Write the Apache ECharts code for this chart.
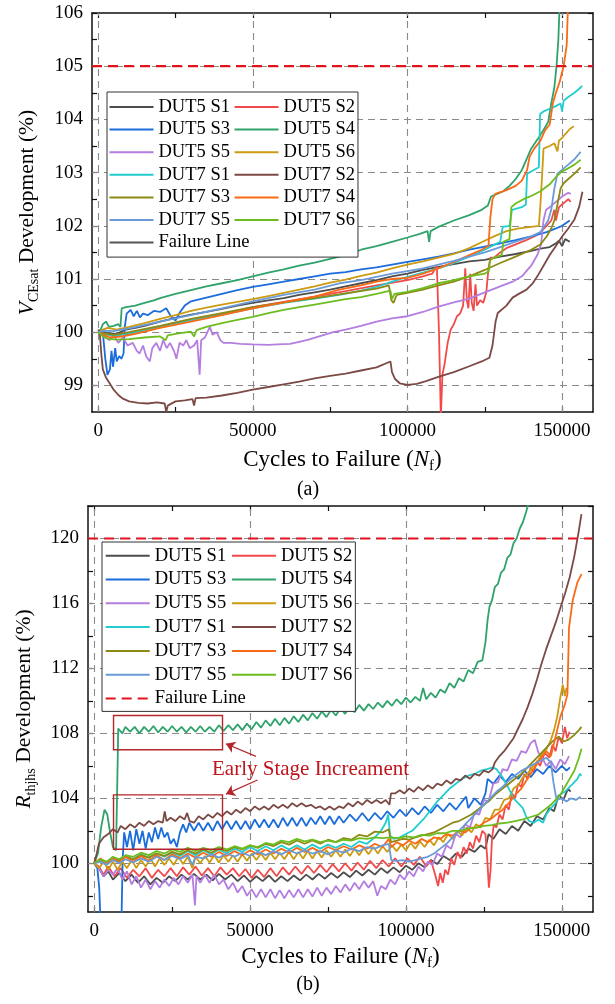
<!DOCTYPE html>
<html><head><meta charset="utf-8">
<script src="https://cdn.jsdelivr.net/npm/echarts@6/dist/echarts.min.js"></script>
<style>html,body{margin:0;padding:0;background:#fff}#c{width:615px;height:1004px}</style>
</head><body><div id="c"></div><script>
const NAMES = ['DUT5 S1','DUT5 S2','DUT5 S3','DUT5 S4','DUT5 S5','DUT5 S6','DUT7 S1','DUT7 S2','DUT7 S3','DUT7 S4','DUT7 S5','DUT7 S6'];
const COLORS = ['#4d4d4d','#f24a4a','#1c6ddc','#2fa36b','#b47de0','#cc9b12','#22cdd0','#7b4a45','#8c8a12','#fa6a16','#6a9bd8','#6dbd1f'];
const FAIL_NAME = 'Failure Line';
const X_RANGE = [-2000, 160000];
const X_LABELS = [0, 50000, 100000, 150000];
const X_TICKS = [0, 25000, 50000, 75000, 100000, 125000, 150000];
const GRID_X = [0, 50000, 100000, 150000];
const YA_RANGE = [98.5, 106];
const YA_LABELS = [99, 100, 101, 102, 103, 104, 105, 106];
const YA_TICKS = [99, 99.5, 100, 100.5, 101, 101.5, 102, 102.5, 103, 103.5, 104, 104.5, 105, 105.5, 106];
const GRID_YA = [99, 100, 101, 102, 103, 104, 105];
const FAIL_A = 105;
const YB_RANGE = [97, 122];
const YB_LABELS = [100, 104, 108, 112, 116, 120];
const YB_TICKS = [98, 100, 102, 104, 106, 108, 110, 112, 114, 116, 118, 120, 122];
const GRID_YB = [100, 104, 108, 112, 116, 120];
const FAIL_B = 120;
const ANNOT_TEXT = 'Early Stage Increament';
const ANNOT_BOXES = [[[6190, 109.1], [41150, 106.99]], [[6190, 104.21], [41150, 100.86]]];
const ANNOT_ARROWS = [[[51860, 106.58], [42240, 107.36]], [[52370, 105.13], [42240, 104.26]]];

// ---------- panel (a): VCEsat ----------
const A_DUT5_S1 = [[0,100],[1000,100.02],[3000,99.98],[6000,99.97],[9000,100.05],[12000,100.08],[15000,100.12],[20000,100.2],[25000,100.27],[30000,100.33],[35000,100.38],[40000,100.44],[45000,100.5],[50000,100.55],[55000,100.6],[60000,100.64],[65000,100.7],[70000,100.75],[75000,100.8],[80000,100.86],[85000,100.92],[90000,100.98],[95000,101.05],[100000,101.1],[105000,101.17],[110000,101.23],[115000,101.28],[120000,101.33],[125000,101.36],[130000,101.42],[135000,101.47],[140000,101.53],[143000,101.57],[146000,101.6],[148000,101.67],[149000,101.72],[150000,101.62],[151000,101.75],[152500,101.7]];
const A_DUT5_S2 = [[0,100],[2000,99.97],[5000,99.93],[10000,99.97],[20000,100.1],[30000,100.22],[40000,100.34],[50000,100.47],[60000,100.57],[70000,100.67],[80000,100.77],[90000,100.88],[100000,100.98],[105000,101.05],[108000,101.1],[109500,101.25],[110200,100.0],[110800,98.4],[111300,99.2],[112000,99.4],[113000,99.8],[114000,100.05],[115000,100.15],[116000,100.3],[117000,100.35],[118000,100.5],[118700,101.2],[119200,100.6],[119700,100.45],[120300,101.1],[120800,100.55],[121400,100.4],[122000,100.9],[122500,100.5],[123500,100.6],[124500,100.55],[125500,100.75],[126200,101.2],[126800,101.4],[128000,101.4],[130000,101.5],[132000,101.58],[135000,101.65],[138000,101.72],[141000,101.8],[143000,101.88],[145000,102.0],[146500,102.1],[147500,102.3],[148000,102.1],[149000,102.35],[150000,102.4],[151000,102.45],[152000,102.5],[152800,102.45]];
const A_DUT5_S3 = [[0,100],[1500,100.0],[2300,99.5],[3000,99.2],[3800,99.3],[4300,99.65],[4800,99.35],[5500,99.7],[6000,99.45],[6800,99.55],[7500,99.5],[8200,99.6],[8600,100.1],[9200,100.35],[10500,100.42],[11500,100.3],[12500,100.4],[13500,100.28],[14500,100.35],[16000,100.32],[18000,100.4],[20000,100.38],[22000,100.45],[23500,100.3],[25000,100.22],[26500,100.38],[28000,100.5],[30000,100.58],[35000,100.65],[40000,100.72],[45000,100.79],[50000,100.85],[55000,100.9],[60000,100.95],[65000,101.0],[70000,101.05],[75000,101.1],[80000,101.13],[85000,101.18],[90000,101.22],[95000,101.27],[100000,101.32],[105000,101.37],[110000,101.42],[115000,101.48],[120000,101.55],[125000,101.61],[130000,101.67],[135000,101.73],[140000,101.8],[145000,101.88],[148000,101.95],[150000,102.0],[152500,102.1]];
const A_DUT5_S4 = [[0,100],[800,100.05],[1500,100.15],[2500,100.2],[3500,100.1],[5000,100.12],[6500,100.15],[7200,100.1],[7600,100.45],[9000,100.47],[12000,100.5],[15000,100.55],[18000,100.6],[20000,100.64],[25000,100.72],[30000,100.79],[35000,100.86],[40000,100.92],[45000,100.98],[50000,101.05],[55000,101.12],[60000,101.18],[65000,101.25],[70000,101.31],[75000,101.38],[80000,101.45],[85000,101.55],[90000,101.62],[95000,101.7],[100000,101.78],[104000,101.85],[106500,101.9],[107000,101.7],[107500,101.9],[110000,101.98],[115000,102.1],[120000,102.2],[124000,102.3],[126000,102.38],[127000,102.55],[129000,102.6],[131000,102.65],[133000,102.75],[135000,102.88],[137000,103.05],[138500,103.25],[140000,103.45],[142000,103.62],[144000,103.8],[145500,103.95],[146500,104.3],[147500,104.6],[148200,105.0],[148800,105.5],[149300,106.3]];
const A_DUT5_S5 = [[0,100],[1000,100.0],[2500,99.9],[3700,99.85],[5000,99.95],[6500,99.8],[8000,99.9],[9500,99.75],[11200,99.8],[12500,99.65],[13400,99.6],[14500,99.75],[15500,99.55],[16700,99.45],[17500,99.7],[18800,99.8],[20000,99.65],[21000,99.85],[22200,99.7],[23200,99.8],[24500,99.65],[25300,99.5],[26300,99.8],[27500,99.75],[28500,99.85],[29600,99.7],[31000,99.75],[32000,99.85],[32800,99.2],[33300,99.85],[34500,99.9],[36100,100.1],[37000,99.95],[38300,100.0],[39500,99.85],[40500,99.8],[43000,99.8],[46000,99.78],[50000,99.77],[55000,99.76],[58000,99.77],[62000,99.78],[65000,99.82],[68000,99.86],[72000,99.93],[76000,100.0],[80000,100.05],[85000,100.12],[90000,100.2],[95000,100.26],[100000,100.3],[105000,100.38],[110000,100.48],[115000,100.56],[120000,100.63],[125000,100.75],[130000,100.86],[134000,100.95],[137000,101.05],[140000,101.25],[142000,101.45],[143200,101.65],[144000,102.1],[144800,102.3],[146000,102.35],[148000,102.45],[150000,102.55],[152000,102.62],[152800,102.6]];
const A_DUT5_S6 = [[0,100],[1500,100.05],[3000,100.08],[6000,100.05],[10000,100.1],[15000,100.17],[20000,100.25],[25000,100.32],[30000,100.4],[35000,100.46],[40000,100.52],[45000,100.57],[50000,100.62],[55000,100.68],[60000,100.74],[65000,100.8],[70000,100.86],[75000,100.93],[80000,100.99],[85000,101.06],[90000,101.12],[95000,101.2],[100000,101.27],[105000,101.33],[110000,101.4],[115000,101.47],[120000,101.58],[125000,101.72],[128000,101.8],[132000,101.9],[136000,101.95],[140000,101.98],[142500,102.0],[143000,102.4],[143500,102.9],[144000,103.45],[146000,103.5],[147500,103.55],[148500,103.4],[149000,103.6],[150000,103.65],[151000,103.72],[152500,103.82],[153800,103.87]];
const A_DUT7_S1 = [[0,100],[2000,99.97],[5000,99.93],[10000,99.98],[20000,100.1],[30000,100.22],[40000,100.33],[50000,100.45],[60000,100.55],[70000,100.63],[78000,100.7],[85000,100.78],[90000,100.85],[95000,100.95],[100000,101.04],[105000,101.12],[110000,101.2],[115000,101.3],[120000,101.42],[125000,101.55],[130000,101.7],[130800,101.98],[133000,102.0],[133800,102.3],[137000,102.35],[138300,102.4],[138700,102.98],[140000,103.02],[142500,103.1],[142900,104.1],[144000,104.15],[146000,104.2],[148000,104.25],[149500,104.3],[150000,104.15],[150500,104.35],[152000,104.42],[154000,104.5],[156000,104.6],[156500,104.63]];
const A_DUT7_S2 = [[0,100.05],[500,100.0],[1000,99.6],[1500,99.3],[2500,99.15],[3700,99.04],[5000,98.92],[6500,98.82],[8000,98.75],[10000,98.7],[13000,98.67],[16000,98.66],[19000,98.68],[21500,98.66],[22000,98.5],[22500,98.62],[25000,98.7],[28000,98.72],[30500,98.74],[31000,98.62],[31500,98.76],[35000,98.77],[40000,98.81],[45000,98.86],[50000,98.92],[55000,98.97],[60000,99.02],[65000,99.07],[70000,99.13],[75000,99.18],[80000,99.22],[85000,99.28],[90000,99.34],[94500,99.45],[95000,99.25],[96000,99.12],[97500,99.04],[100000,99.01],[103000,99.03],[106000,99.08],[110000,99.16],[115000,99.25],[120000,99.36],[124000,99.45],[126500,99.52],[127500,99.75],[128500,100.2],[129200,100.36],[132000,100.5],[134000,100.65],[136000,100.72],[138500,100.8],[140500,100.92],[142000,101.05],[144000,101.25],[146000,101.45],[148000,101.62],[150000,101.8],[152000,101.95],[154000,102.12],[155500,102.35],[156600,102.64]];
const A_DUT7_S3 = [[0,100],[2000,99.98],[5000,99.95],[10000,100.0],[20000,100.12],[30000,100.25],[40000,100.36],[50000,100.47],[60000,100.56],[70000,100.64],[80000,100.73],[90000,100.82],[94000,100.88],[94800,100.6],[95500,100.55],[96500,100.7],[100000,100.74],[105000,100.8],[110000,100.88],[115000,100.95],[120000,101.05],[125000,101.17],[130000,101.3],[135000,101.42],[140000,101.55],[143000,101.65],[145000,101.8],[146500,101.95],[147500,102.1],[148500,102.4],[149500,102.7],[150500,102.8],[152000,102.88],[154000,102.98],[156000,103.1]];
const A_DUT7_S4 = [[0,100],[1500,99.95],[4000,99.9],[8000,99.92],[12000,99.97],[20000,100.08],[30000,100.2],[40000,100.32],[50000,100.45],[60000,100.56],[70000,100.67],[78000,100.8],[85000,100.88],[90000,100.95],[95000,101.0],[100000,101.02],[105000,101.1],[110000,101.2],[115000,101.32],[120000,101.45],[124000,101.55],[126200,101.62],[126800,102.15],[127500,102.5],[128400,102.6],[132000,102.67],[135000,102.75],[137000,102.85],[138700,103.05],[139500,103.3],[141000,103.45],[143000,103.6],[144500,103.8],[146000,103.9],[147000,104.3],[148000,104.5],[149200,104.7],[150500,105.0],[151500,105.4],[152000,106.3]];
const A_DUT7_S5 = [[0,100],[2000,100.03],[5000,100.02],[10000,100.07],[20000,100.2],[30000,100.32],[40000,100.45],[50000,100.58],[60000,100.7],[70000,100.8],[78000,100.92],[85000,100.98],[90000,101.04],[95000,101.1],[100000,101.15],[105000,101.2],[110000,101.27],[115000,101.34],[120000,101.42],[125000,101.5],[130000,101.6],[135000,101.7],[140000,101.8],[143000,101.88],[145500,102.1],[146500,102.3],[147500,102.7],[148500,102.98],[150000,103.05],[152000,103.15],[154000,103.25],[156000,103.39]];
const A_DUT7_S6 = [[0,100],[1500,99.92],[3000,99.88],[6000,99.86],[10000,99.87],[15000,99.9],[20000,99.92],[21800,99.85],[22500,99.94],[25000,99.97],[30000,100.01],[31000,99.92],[31800,100.04],[35000,100.1],[40000,100.17],[45000,100.23],[50000,100.29],[55000,100.36],[60000,100.42],[65000,100.47],[70000,100.52],[75000,100.57],[80000,100.62],[85000,100.66],[90000,100.72],[94500,100.78],[95000,100.62],[95800,100.72],[100000,100.76],[105000,100.83],[110000,100.92],[115000,100.98],[120000,101.05],[125000,101.1],[126300,101.15],[126800,101.36],[128000,101.4],[130500,101.45],[131000,101.7],[133000,101.75],[133600,102.35],[135000,102.42],[137500,102.5],[140000,102.56],[143000,102.65],[146000,102.78],[148500,102.95],[150000,103.02],[152000,103.08],[154000,103.15],[156000,103.24]];

// ---------- panel (b): Rthjhs ----------
const B_DUT5_S1 = [[0,100],[1500,99.7],[3000,99.2],[4500,99.5],[6000,99.0],[8000,99.4],[10000,98.9],[12000,99.3],[14000,98.8],[16000,99.2],[18000,98.7],[20000,99.1],[22000,98.8],[24000,99.2],[26000,98.9],[28000,99.3],[30000,99.0],[32000,99.35],[34000,99.0],[36000,99.3],[38000,98.95],[40000,99.35],[42000,99.0],[44000,99.3],[46000,98.9],[48000,99.25],[50000,98.85],[52000,99.2],[54000,98.9],[56000,99.25],[58000,98.85],[60000,99.2],[62000,98.9],[64000,99.25],[66000,98.95],[68000,99.3],[70000,99.0],[72000,99.35],[74000,99.05],[76000,99.4],[78000,99.1],[80000,99.45],[82000,99.15],[84000,99.55],[86000,99.25],[88000,99.6],[90000,99.3],[92000,99.7],[94000,99.4],[96000,99.75],[98000,99.45],[100000,99.85],[102000,99.6],[104000,100.0],[106000,99.75],[108000,100.2],[110000,99.95],[112000,100.45],[114000,100.2],[116000,100.6],[118000,100.4],[120000,100.9],[122000,100.7],[124000,101.1],[125500,100.9],[126500,101.8],[128000,101.5],[130000,102.1],[132000,101.8],[134000,102.3],[136000,102.0],[138000,102.6],[140000,102.3],[142000,102.9],[144000,102.7],[146000,103.4],[147500,103.2],[149000,104.2],[150500,103.9],[152000,104.6],[152800,104.4]];
const B_DUT5_S2 = [[0,100],[1500,99.8],[3000,99.3],[4500,99.8],[6500,99.2],[8500,99.7],[10500,99.1],[12500,99.6],[14500,99.2],[16500,99.7],[18500,99.1],[20500,99.6],[22500,99.2],[24500,99.7],[26500,99.2],[28500,99.75],[30500,99.3],[32500,99.8],[34500,99.25],[36500,99.7],[38500,99.2],[40500,99.75],[42500,99.3],[44500,99.7],[46500,99.2],[48500,99.65],[50500,99.1],[52500,99.6],[54500,99.15],[56500,99.7],[58500,99.2],[60500,99.75],[62500,99.3],[64500,99.8],[66500,99.35],[68500,99.85],[70500,99.4],[72500,99.9],[74500,99.45],[76500,99.95],[78500,99.5],[80500,100.0],[82500,99.55],[84500,100.05],[86500,99.6],[88500,100.15],[90500,99.7],[92500,100.2],[94500,99.8],[96500,100.3],[98500,99.8],[100500,100.3],[102500,99.9],[104500,100.4],[106500,99.8],[108000,100.2],[109500,99.2],[110300,98.6],[111000,99.4],[111800,98.8],[112600,99.6],[113500,99.3],[114500,100.3],[115500,99.9],[116500,100.7],[117500,100.3],[118500,101.0],[119500,100.6],[120500,101.3],[121500,100.9],[122500,101.7],[123500,101.3],[124500,102.0],[125500,101.8],[126000,100.5],[126600,98.5],[127100,99.5],[127600,101.5],[128200,102.4],[129000,102.2],[130000,103.0],[131000,102.7],[132000,103.6],[133000,103.3],[134000,104.3],[135000,104.0],[136000,104.9],[137000,104.7],[138000,105.5],[139000,105.2],[140000,105.9],[141000,105.6],[142000,106.3],[143000,106.0],[144500,106.8],[146000,106.5],[147000,107.3],[148000,106.9],[149000,107.8],[150000,107.4],[151000,108.4],[151700,107.7],[152500,108.1]];
const B_DUT5_S3 = [[0,100],[1000,99.7],[1600,98.5],[2100,96.0],[8700,96.0],[9100,100.2],[9600,101.9],[10500,101.0],[11500,102.0],[12500,100.8],[13500,102.1],[14500,101.2],[15500,102.0],[16500,100.9],[17500,101.9],[18500,101.3],[19500,102.2],[20500,101.5],[21500,102.2],[22500,101.6],[23500,101.9],[24500,101.2],[25500,101.5],[26500,101.0],[27500,101.9],[28500,102.4],[29500,101.9],[30500,102.5],[32000,102.0],[33500,102.5],[35000,102.0],[36500,102.5],[38000,102.0],[39500,102.6],[41000,102.1],[42500,102.6],[44000,102.1],[45500,102.6],[47000,102.1],[48500,102.6],[50000,102.1],[51500,102.7],[53000,102.2],[54500,102.7],[56000,102.2],[57500,102.7],[59000,102.2],[60500,102.8],[62000,102.3],[63500,102.8],[65000,102.3],[66500,102.8],[68000,102.3],[69500,102.8],[71000,102.4],[72500,102.9],[74000,102.4],[75500,102.9],[77000,102.4],[78500,102.9],[80000,102.5],[82000,103.0],[84000,102.6],[86000,103.1],[88000,102.6],[90000,103.1],[92000,102.7],[94000,103.2],[96000,102.8],[98000,103.3],[100000,102.9],[102000,103.4],[104000,103.0],[106000,103.5],[108000,103.1],[110000,103.6],[112000,103.2],[114000,103.7],[116000,103.3],[118000,103.8],[119300,104.1],[120000,103.4],[122000,104.0],[124000,103.6],[125500,104.3],[126200,105.2],[128000,104.9],[130000,105.4],[132000,105.0],[134000,105.5],[136000,105.2],[138000,105.7],[140000,105.3],[142000,105.8],[144000,105.5],[146000,106.0],[148000,105.6],[150000,106.0],[151500,105.7],[152600,105.9]];
const B_DUT5_S4 = [[0,100],[1200,100.6],[2200,102.2],[3300,103.3],[4200,103.0],[5000,102.0],[6000,101.0],[7000,100.8],[7400,105.0],[7700,108.3],[9000,108.0],[10000,108.4],[11500,108.1],[13000,108.4],[14500,108.0],[16000,108.4],[17500,108.1],[19000,108.45],[20500,108.05],[22000,108.4],[23500,108.1],[25000,108.45],[26500,108.1],[28000,108.4],[29500,108.05],[31000,108.4],[32500,108.1],[34000,108.45],[35500,108.1],[37000,108.4],[38500,108.1],[40000,108.5],[41500,108.15],[43000,108.5],[44500,108.2],[46000,108.55],[47500,108.2],[49000,108.6],[50500,108.25],[52000,108.7],[53500,108.35],[55000,108.8],[56500,108.45],[58000,108.9],[59500,108.5],[61000,108.95],[62500,108.6],[64000,109.05],[65500,108.7],[67000,109.15],[68500,108.8],[70000,109.25],[71500,108.9],[73000,109.35],[74500,109.0],[76000,109.45],[77500,109.1],[79000,109.55],[80500,109.2],[82000,109.65],[83500,109.3],[85000,109.75],[86500,109.4],[88000,109.8],[89500,109.5],[91000,109.9],[92500,109.6],[94000,110.0],[95500,109.7],[97000,110.1],[98500,109.8],[100000,110.2],[101500,109.9],[103000,110.25],[104500,110.0],[105500,110.8],[106500,110.1],[108000,110.5],[109500,110.2],[111000,110.7],[112500,110.5],[114000,111.1],[115500,110.8],[117000,111.4],[118500,111.2],[120000,111.9],[121500,111.7],[123000,112.4],[124500,112.5],[125500,113.6],[126200,115.0],[126800,115.8],[127600,116.2],[128500,117.0],[129500,117.2],[130500,117.9],[131500,118.1],[132500,118.8],[133500,119.0],[134500,119.7],[135500,120.0],[136500,120.6],[137500,121.0],[138500,121.6],[139500,122.3]];
const B_DUT5_S5 = [[0,100],[1500,99.7],[3000,99.2],[4500,99.6],[6000,99.3],[7500,99.7],[9000,99.0],[10500,99.5],[12000,98.7],[13500,99.2],[15000,98.5],[16500,99.0],[18000,98.4],[19500,98.9],[21000,98.5],[22500,99.0],[24000,98.6],[25500,99.1],[27000,98.7],[28500,99.2],[30000,98.8],[31500,99.3],[32300,97.4],[32800,99.2],[34000,98.8],[35500,99.3],[37000,98.8],[38500,99.3],[40000,98.7],[41500,99.0],[43000,98.4],[44500,98.8],[46000,98.2],[47500,98.6],[49000,98.0],[50500,98.4],[52000,97.9],[53500,98.4],[55000,97.9],[56500,98.4],[58000,97.85],[59500,98.35],[61000,97.85],[62500,98.35],[64000,97.9],[65500,98.4],[67000,97.9],[68500,98.4],[70000,97.95],[71500,98.5],[73000,98.0],[74500,98.5],[76000,98.1],[77500,98.6],[79000,98.2],[80500,98.7],[82000,98.3],[83500,98.8],[85000,98.4],[86500,98.9],[88000,98.5],[89500,98.9],[90800,98.0],[92000,98.6],[93500,98.4],[95000,99.0],[96500,98.7],[98000,99.3],[99500,99.0],[101000,99.5],[102500,99.2],[104000,99.8],[105500,99.5],[107000,100.1],[108500,99.9],[110000,100.6],[111500,100.4],[113000,101.1],[114500,100.9],[116000,101.8],[117500,101.6],[119000,102.4],[120500,102.2],[122000,103.1],[123500,103.0],[125000,103.9],[126500,103.8],[128000,104.9],[129500,105.0],[131000,105.8],[132500,105.7],[134000,106.4],[135500,106.3],[137000,106.9],[138500,106.8],[140000,107.4],[141300,107.6],[142500,106.8],[143500,106.6],[145000,106.0],[146500,106.3],[148000,105.8],[149500,106.4],[151000,106.1],[152300,106.6]];
const B_DUT5_S6 = [[0,100],[1500,99.7],[3000,100.1],[4500,99.6],[6000,100.1],[7500,99.6],[9000,100.1],[10500,99.7],[12000,100.2],[13500,99.7],[15000,100.2],[16500,99.8],[18000,100.3],[19500,99.8],[21000,100.3],[22500,99.9],[24000,100.3],[25500,99.9],[27000,100.4],[28500,99.95],[30000,100.4],[31500,99.7],[32500,100.4],[34000,100.0],[35500,100.45],[37000,100.05],[38500,100.5],[40000,100.05],[41500,100.5],[43000,100.1],[44500,100.5],[46000,100.1],[47500,100.55],[49000,100.15],[50500,100.6],[52000,100.2],[53500,100.6],[55000,100.2],[56500,100.65],[58000,100.25],[59500,100.65],[61000,100.25],[62500,100.7],[64000,100.25],[65500,100.7],[67000,100.3],[68500,100.75],[70000,100.3],[71500,100.75],[73000,100.35],[74500,100.8],[76000,100.4],[77500,100.8],[79000,100.4],[80500,100.85],[82000,100.45],[83500,100.9],[85000,100.5],[86500,100.95],[88000,100.55],[89500,101.0],[91000,100.6],[92500,101.05],[94000,100.7],[95500,101.1],[97000,100.75],[98500,101.15],[100000,100.8],[101500,101.25],[103000,100.9],[104500,101.35],[106000,101.0],[107500,101.45],[109000,101.1],[110500,101.6],[112000,101.3],[113500,101.8],[115000,101.5],[116500,102.0],[118000,101.7],[119500,102.2],[121000,101.9],[122500,102.4],[124000,102.2],[125500,102.8],[127000,102.7],[128500,103.3],[130000,103.3],[131500,103.9],[133000,104.0],[134500,104.6],[136000,104.8],[137500,105.3],[139000,105.5],[140500,105.9],[142000,106.2],[143500,106.7],[145000,107.0],[146500,107.6],[147500,108.2],[148500,109.0],[149500,110.2],[150300,111.0],[151000,110.3],[151500,110.8]];
const B_DUT7_S1 = [[0,100],[2000,100.2],[4000,100.0],[6000,100.35],[8000,100.15],[10000,100.45],[12500,100.25],[15000,100.55],[17500,100.35],[20000,100.6],[22500,100.4],[25000,100.65],[27500,100.45],[30000,100.75],[32500,100.5],[35000,100.8],[37500,100.55],[40000,100.85],[42500,100.6],[45000,100.9],[47500,100.7],[50000,101.0],[52500,100.75],[55000,101.05],[57500,100.8],[60000,101.1],[62500,100.85],[65000,101.1],[67500,100.85],[70000,101.15],[72500,100.9],[75000,101.15],[77500,100.95],[80000,101.2],[82500,101.0],[85000,101.35],[87500,101.2],[90000,101.6],[92000,102.0],[93500,102.5],[94300,103.0],[94900,101.7],[96000,101.5],[98000,101.6],[100000,101.8],[102000,102.0],[104000,102.4],[106000,102.8],[108000,103.3],[110000,103.8],[112000,104.2],[114000,104.6],[116000,104.9],[118000,105.2],[120000,105.4],[122000,105.5],[124000,105.7],[126000,105.8],[127900,105.9],[129000,105.8],[131000,105.3],[133000,104.6],[134500,104.0],[136000,103.7],[137500,103.4],[138500,102.9],[139500,102.6],[141000,102.5],[142500,102.7],[144000,102.5],[145000,103.0],[146500,103.4],[148000,103.7],[149300,104.2],[151000,104.4],[152500,104.7],[153600,104.9],[155000,105.2],[155800,105.5],[156300,105.4]];
const B_DUT7_S2 = [[0,100],[800,100.6],[1500,101.2],[3000,101.6],[4500,101.8],[6000,102.1],[7500,101.9],[8500,102.3],[10000,102.1],[11500,102.4],[13000,102.2],[14500,102.5],[16000,102.3],[17500,102.6],[19000,102.4],[20500,102.6],[22000,102.5],[22600,103.2],[23200,102.6],[24500,102.8],[26000,102.6],[27500,102.9],[29000,102.7],[29800,103.1],[30600,102.6],[32000,102.5],[33500,102.9],[35000,102.7],[36500,103.0],[38000,102.8],[39500,103.1],[41000,102.9],[42500,103.2],[44000,103.0],[45500,103.3],[47000,103.1],[48500,103.4],[50000,103.2],[51500,103.5],[53000,103.3],[54500,103.5],[56000,103.3],[57500,103.6],[59000,103.4],[60500,103.6],[62000,103.4],[63500,103.7],[65000,103.5],[66500,103.7],[68000,103.5],[69500,103.6],[71000,103.4],[72500,103.5],[74000,103.3],[75500,103.5],[77000,103.3],[78500,103.5],[80000,103.4],[81500,103.7],[83000,103.5],[84500,103.8],[86000,103.6],[87500,103.9],[89000,103.7],[90500,103.9],[92000,103.7],[93500,103.9],[94700,103.6],[95200,104.3],[96500,104.3],[98000,104.5],[99500,104.3],[101000,104.6],[102500,104.4],[104000,104.7],[105500,104.5],[107000,104.8],[108500,104.6],[110000,104.9],[111500,104.8],[113000,105.1],[114500,104.9],[116000,105.2],[117500,105.1],[119000,105.4],[120500,105.2],[122000,105.5],[123500,105.4],[125000,105.7],[126500,105.6],[127800,105.8],[128500,106.2],[130000,106.6],[131500,106.9],[133000,107.3],[134500,107.7],[136000,108.3],[137500,108.9],[139000,109.6],[140500,110.4],[142000,111.3],[143500,112.3],[145000,113.2],[146500,114.0],[148000,114.8],[149500,115.7],[151000,116.6],[152500,117.6],[154000,118.9],[155300,120.3],[156300,121.5]];
const B_DUT7_S3 = [[0,100],[2000,100.2],[4000,100.05],[6000,100.3],[8000,100.15],[10000,100.4],[12500,100.25],[15000,100.5],[17500,100.35],[20000,100.6],[22500,100.45],[25000,100.7],[27500,100.55],[30000,100.8],[32500,100.6],[35000,100.85],[37500,100.65],[40000,100.9],[42500,100.75],[45000,101.0],[47500,100.85],[50000,101.1],[52500,100.95],[55000,101.2],[57500,101.05],[60000,101.3],[62500,101.15],[65000,101.4],[67500,101.2],[70000,101.4],[72500,101.2],[75000,101.45],[77500,101.3],[80000,101.55],[82500,101.45],[85000,101.75],[87500,101.65],[90000,101.95],[92500,101.9],[94500,102.1],[95200,101.3],[97000,101.4],[99000,101.5],[101000,101.45],[103000,101.6],[105000,101.7],[107000,101.8],[109000,101.9],[111000,102.1],[113000,102.3],[115000,102.5],[117000,102.6],[119000,102.8],[121000,103.0],[123000,103.3],[125000,103.6],[127000,103.9],[129000,104.3],[131000,104.6],[133000,104.9],[135000,105.2],[137000,105.5],[139000,105.9],[141000,106.3],[143000,106.7],[145000,107.1],[147000,107.5],[149000,107.8],[150500,107.5],[152000,107.6],[154000,107.9],[155500,108.2],[156300,108.4]];
const B_DUT7_S4 = [[0,100],[2000,100.3],[4000,100.0],[6000,100.35],[8000,100.05],[10000,100.4],[12500,100.1],[15000,100.45],[17500,100.15],[20000,100.5],[22500,100.2],[25000,100.55],[27500,100.3],[30000,100.6],[32500,100.35],[35000,100.65],[37500,100.4],[40000,100.7],[42500,100.45],[45000,100.75],[47500,100.5],[50000,100.8],[52500,100.55],[55000,100.85],[57500,100.6],[60000,100.9],[62500,100.65],[65000,100.95],[67500,100.7],[70000,100.95],[72500,100.7],[75000,101.0],[77500,100.8],[80000,101.05],[82500,100.85],[85000,101.1],[87500,100.9],[90000,101.2],[92500,101.0],[94500,101.5],[95300,101.0],[97000,101.3],[99000,101.1],[101000,101.4],[103000,101.2],[105000,101.5],[107000,101.3],[109000,101.6],[111000,101.5],[113000,101.8],[115000,101.7],[117000,102.0],[119000,101.9],[121000,102.2],[123000,102.2],[125000,102.5],[127000,102.7],[129000,103.0],[131000,103.3],[133000,103.7],[135000,104.2],[137000,104.6],[139000,105.2],[141000,105.8],[143000,106.4],[145000,106.9],[146500,106.6],[148000,107.8],[149500,109.0],[151000,109.8],[151800,110.4],[152300,114.5],[153500,116.2],[155000,117.3],[156300,117.8]];
const B_DUT7_S5 = [[0,100],[2000,100.1],[4000,99.9],[6000,100.2],[8000,100.0],[10000,100.25],[12500,100.05],[15000,100.3],[17500,100.1],[20000,100.4],[22500,100.2],[25000,100.45],[27500,100.25],[30000,100.5],[31500,99.9],[32500,100.4],[35000,100.3],[37500,100.55],[40000,100.35],[42500,100.6],[45000,100.4],[47500,100.65],[50000,100.45],[52500,100.7],[55000,100.5],[57500,100.75],[60000,100.55],[62500,100.8],[65000,100.6],[67500,100.8],[70000,100.6],[72500,100.75],[75000,100.55],[77500,100.8],[80000,100.65],[82500,100.9],[85000,100.75],[87500,101.0],[90000,100.9],[92500,101.1],[94500,101.2],[95300,100.2],[97000,100.15],[99000,100.2],[101000,100.1],[103000,100.2],[105000,100.3],[107000,100.4],[109000,100.6],[111000,100.9],[113000,101.2],[115000,101.6],[117000,102.0],[119000,102.4],[121000,102.8],[123000,103.2],[125000,103.6],[127000,104.0],[129000,104.4],[131000,104.7],[133000,105.1],[135000,105.4],[137000,105.7],[139000,105.9],[141000,106.1],[143000,106.3],[145000,106.5],[146500,106.2],[147300,105.0],[148300,103.9],[150000,104.0],[151500,103.8],[153000,104.0],[154500,103.9],[156000,104.1]];
const B_DUT7_S6 = [[0,100],[2000,100.25],[4000,100.1],[6000,100.4],[8000,100.25],[10000,100.5],[12500,100.4],[15000,100.65],[17500,100.5],[20000,100.75],[22500,100.6],[25000,100.85],[27500,100.7],[30000,100.95],[32500,100.75],[35000,100.95],[37500,100.8],[40000,101.0],[42500,100.85],[45000,101.05],[47500,100.9],[50000,101.1],[52500,101.0],[55000,101.25],[57500,101.15],[60000,101.4],[62500,101.3],[65000,101.5],[67500,101.35],[70000,101.45],[72500,101.3],[75000,101.4],[77500,101.3],[80000,101.45],[82500,101.4],[85000,101.55],[87500,101.5],[90000,101.6],[92500,101.55],[95000,101.6],[97500,101.55],[100000,101.65],[102500,101.6],[105000,101.75],[107500,101.7],[110000,101.85],[112500,101.85],[115000,102.0],[117500,102.0],[120000,102.15],[122500,102.2],[125000,102.3],[127500,102.35],[130000,102.45],[132500,102.5],[135000,102.6],[137500,102.7],[140000,102.85],[142500,103.0],[144500,103.3],[146500,103.6],[148000,103.9],[149500,104.2],[151000,104.7],[152500,105.2],[154000,105.7],[155500,106.5],[156300,107.05]];

const A_SERIES = [A_DUT5_S1,A_DUT5_S2,A_DUT5_S3,A_DUT5_S4,A_DUT5_S5,A_DUT5_S6,A_DUT7_S1,A_DUT7_S2,A_DUT7_S3,A_DUT7_S4,A_DUT7_S5,A_DUT7_S6];
const B_SERIES = [B_DUT5_S1,B_DUT5_S2,B_DUT5_S3,B_DUT5_S4,B_DUT5_S5,B_DUT5_S6,B_DUT7_S1,B_DUT7_S2,B_DUT7_S3,B_DUT7_S4,B_DUT7_S5,B_DUT7_S6];

const FONT = 'Liberation Serif';
function rich(sz, sub) {
  return {
    t: {fontFamily: FONT, fontSize: sz, color: '#000', lineHeight: sz + 6},
    i: {fontFamily: FONT, fontSize: sz, fontStyle: 'italic', color: '#000', lineHeight: sz + 6},
    s: {fontFamily: FONT, fontSize: sub, color: '#000', lineHeight: sub + 2, verticalAlign: 'bottom'}
  };
}
const AXC = '#111';

function mkX(gridIndex, pos, main, nameGap) {
  return {
    type: 'value', gridIndex: gridIndex, position: pos, min: X_RANGE[0], max: X_RANGE[1],
    axisLine: {show: true, onZero: false, lineStyle: {color: AXC, width: 1.5}},
    axisTick: {show: true, inside: true, length: 5, customValues: X_TICKS, lineStyle: {color: AXC, width: 1.2}},
    splitLine: {show: false}, minorTick: {show: false},
    axisLabel: {show: main, customValues: X_LABELS, formatter: v => String(v), color: '#000', fontFamily: FONT, fontSize: 19, margin: 10},
    name: main ? '{t|Cycles to Failure (}{i|N}{s|f}{t|)}' : '',
    nameLocation: 'middle', nameGap: nameGap,
    nameTextStyle: {rich: rich(23, 15)}
  };
}
function mkY(gridIndex, pos, main, range, ticks, labels, name, nameGap) {
  return {
    type: 'value', gridIndex: gridIndex, position: pos, min: range[0], max: range[1],
    axisLine: {show: true, onZero: false, lineStyle: {color: AXC, width: 1.5}},
    axisTick: {show: true, inside: true, length: 5, customValues: ticks, lineStyle: {color: AXC, width: 1.2}},
    splitLine: {show: false}, minorTick: {show: false},
    axisLabel: {show: main, customValues: labels, formatter: v => String(v), color: '#000', fontFamily: FONT, fontSize: 19, margin: 9},
    name: main ? name : '', nameLocation: 'middle', nameGap: nameGap, nameRotate: 90,
    nameTextStyle: {rich: rich(21.5, 14)}
  };
}

const series = [];
function gridSeries(xi, yi, gy) {
  return {
    type: 'line', name: '_grid' + xi, xAxisIndex: xi, yAxisIndex: yi, data: [], z: 1, silent: true,
    markLine: {
      z: 1, silent: true, symbol: ['none', 'none'], label: {show: false}, animation: false,
      emphasis: {disabled: true},
      lineStyle: {color: '#8a8a8a', type: [7, 5], width: 1.1},
      data: GRID_X.map(v => ({xAxis: v})).concat(gy.map(v => ({yAxis: v})))
    }
  };
}
series.push(gridSeries(0, 0, GRID_YA));
series.push(gridSeries(2, 2, GRID_YB));
function addPanel(list, xi, yi) {
  list.forEach((d, i) => {
    series.push({
      type: 'line', name: NAMES[i], xAxisIndex: xi, yAxisIndex: yi, data: d,
      showSymbol: false, symbol: 'none', silent: true, z: 2,
      lineStyle: {color: COLORS[i], width: 1.8}, itemStyle: {color: COLORS[i]},
      emphasis: {disabled: true}
    });
  });
}
addPanel(A_SERIES, 0, 0);
series.push({type: 'line', name: FAIL_NAME, xAxisIndex: 0, yAxisIndex: 0, data: [[X_RANGE[0], FAIL_A], [X_RANGE[1], FAIL_A]],
  showSymbol: false, symbol: 'none', silent: true, z: 3, lineStyle: {color: '#e0141c', width: 2.2, type: [10, 6]}, itemStyle: {color: '#e0141c'}});
addPanel(B_SERIES, 2, 2);
series.push({type: 'line', name: FAIL_NAME, xAxisIndex: 2, yAxisIndex: 2, data: [[X_RANGE[0], FAIL_B], [X_RANGE[1], FAIL_B]],
  showSymbol: false, symbol: 'none', silent: true, z: 3, lineStyle: {color: '#e0141c', width: 2.2, type: [10, 6]}, itemStyle: {color: '#e0141c'}});
// annotations (panel b)
series.push({
  type: 'line', name: '_annot', xAxisIndex: 2, yAxisIndex: 2, data: [], z: 5, silent: true,
  markArea: {z: 3, silent: true, itemStyle: {color: 'rgba(0,0,0,0)', borderColor: '#b3262b', borderWidth: 1.4},
    label: {show: false}, emphasis: {disabled: true},
    data: ANNOT_BOXES.map(b => [{coord: b[0]}, {coord: b[1]}])},
  markLine: {z: 3, silent: true, symbol: ['none', 'arrow'], symbolSize: 9, label: {show: false}, emphasis: {disabled: true},
    lineStyle: {color: '#b3262b', width: 1.2, type: 'solid'},
    data: ANNOT_ARROWS.map(a => [{coord: a[0]}, {coord: a[1]}])}
});

const legendBase = {
  orient: 'horizontal', itemWidth: 44, itemHeight: 14, selectedMode: false, z: 6,
  borderColor: '#333', borderWidth: 1, backgroundColor: '#fff',
  itemStyle: {opacity: 0, borderWidth: 0},
  textStyle: {fontFamily: FONT, fontSize: 18.5, color: '#000'}
};
const option = {
  animation: false,
  backgroundColor: '#fff',
  textStyle: {fontFamily: FONT},
  grid: [
    {left: 92, top: 13, width: 501, height: 399},
    {left: 88, top: 506, width: 505, height: 406}
  ],
  xAxis: [mkX(0, 'bottom', true, 33), mkX(0, 'top', false, 0), mkX(1, 'bottom', true, 30), mkX(1, 'top', false, 0)],
  yAxis: [
    mkY(0, 'left', true, YA_RANGE, YA_TICKS, YA_LABELS, '{i|V}{s|CEsat}{t| Development (%)}', 51),
    mkY(0, 'right', false, YA_RANGE, YA_TICKS, YA_LABELS, '', 0),
    mkY(1, 'left', true, YB_RANGE, YB_TICKS, YB_LABELS, '{i|R}{s|thjhs}{t| Development (%)}', 50),
    mkY(1, 'right', false, YB_RANGE, YB_TICKS, YB_LABELS, '', 0)
  ],
  legend: [
    Object.assign({}, legendBase, {left: 107, top: 92, width: 248, itemGap: 3.6, padding: [5.5, 3, 5, 1.5],
      data: NAMES.map(n => ({name: n})).concat([{name: FAIL_NAME, lineStyle: {color: '#555', type: 'solid', width: 2}, itemStyle: {opacity: 0}}])}),
    Object.assign({}, legendBase, {left: 102, top: 542, width: 252, itemGap: 4.8, padding: [4.2, 3, 3.4, 2.7],
      data: NAMES.map(n => ({name: n})).concat([{name: FAIL_NAME}])})
  ],
  graphic: [
    {type: 'text', z: 10, style: {text: '(a)', x: 308, y: 490, align: 'center', verticalAlign: 'middle', font: '20px "Liberation Serif"', fill: '#000'}},
    {type: 'text', z: 10, style: {text: '(b)', x: 308, y: 985, align: 'center', verticalAlign: 'middle', font: '20px "Liberation Serif"', fill: '#000'}},
    {type: 'text', z: 10, style: {text: ANNOT_TEXT, x: 212, y: 769, verticalAlign: 'middle', font: '21px "Liberation Serif"', fill: '#c0141c'}}
  ],
  series: series
};
const chart = echarts.init(document.getElementById('c'), null, {renderer: 'canvas'});
chart.setOption(option);
</script></body></html>
